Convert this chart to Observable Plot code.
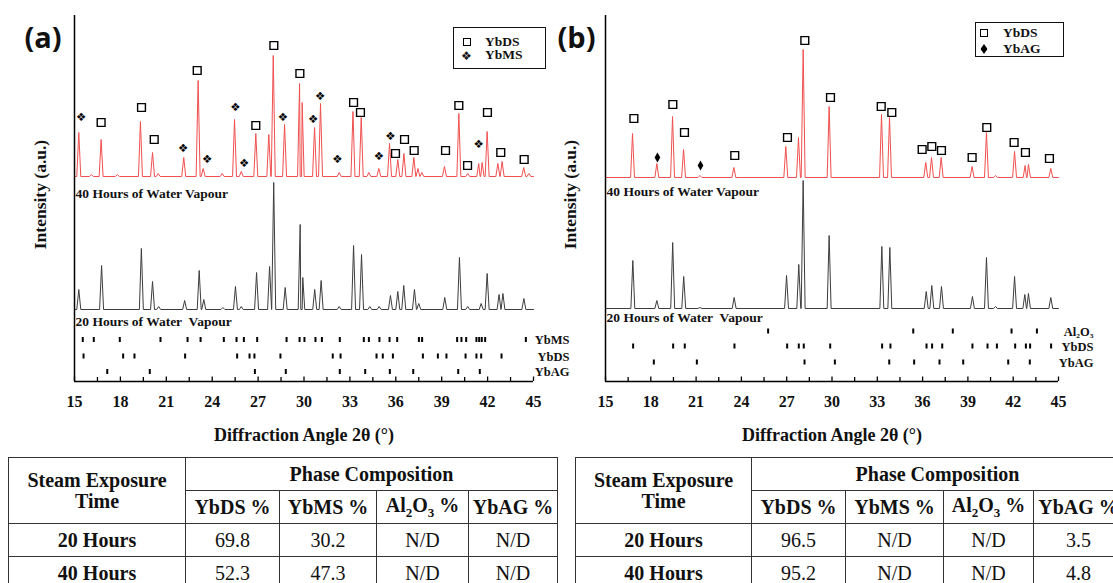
<!DOCTYPE html>
<html><head><meta charset="utf-8">
<script src="https://cdn.jsdelivr.net/npm/d3@7"></script>
<script src="https://cdn.jsdelivr.net/npm/@observablehq/plot@0.6"></script>
<style>
html,body{margin:0;padding:0;background:#fff;overflow:hidden;}
#wrap{position:relative;width:1113px;height:583px;overflow:hidden;font-family:'Liberation Serif','Times New Roman',serif;color:#111;}
.legend{position:absolute;border:1.5px solid #111;background:#fff;box-sizing:border-box;}
.legend .sym{position:absolute;transform:translate(-50%,-50%);line-height:0;}
.legend .sq{width:8px;height:8px;border:1.5px solid #000;box-sizing:border-box;}
.legend .lab{position:absolute;transform:translateY(-50%);font-weight:bold;font-size:13.5px;line-height:1;white-space:nowrap;}
table.tab{position:absolute;border-collapse:collapse;font-family:'Liberation Serif','Times New Roman',serif;font-size:20px;color:#111;table-layout:fixed;}
table.tab td,table.tab th{border:1.5px solid #333;text-align:center;padding:0;line-height:1.05;}
table.tab th{font-weight:bold;}
table.tab td{font-weight:normal;}
</style>
</head>
<body>
<div id="wrap"></div>
<script>
// ---------- axis ticks ----------
const majorTicks = [15, 18, 21, 24, 27, 30, 33, 36, 39, 42, 45];
const minorTicks = [16.5, 19.5, 22.5, 25.5, 28.5, 31.5, 34.5, 37.5, 40.5, 43.5];

// ---------- Panel (a) patterns: [2θ, peak height a.u.] ----------
const a40hPeaks = [[15.28,44],[16.1,2],[16.74,37],[17.8,2],[19.31,55],[20.1,24],[20.47,3],[22.14,19],[23.08,96],[23.41,8],[24.65,3],[25.46,57],[25.9,5],[26.85,43],[27.70,42],[27.99,121],[28.73,52],[29.71,93],[29.88,74],[30.69,49],[31.08,73],[32.3,4],[33.2,65],[33.74,59],[34.24,4],[34.89,8],[35.59,33],[36.13,17],[36.53,23],[37.18,19],[37.45,8],[37.7,4],[39.18,10],[40.12,63],[40.7,3],[41.42,13],[41.64,14],[41.97,45],[42.67,13],[42.95,15],[44.36,9],[44.7,3]];
const a20hPeaks = [[15.28,20],[16.77,44],[19.37,61],[20.1,28],[20.5,3],[22.2,9],[23.15,39],[23.45,10],[24.7,2],[25.52,23],[25.9,3],[26.9,37],[27.75,43],[28.02,127],[28.77,22],[29.75,85],[29.92,32],[30.7,20],[31.12,29],[32.3,3],[33.24,64],[33.76,55],[34.3,3],[34.91,3],[35.65,14],[36.13,18],[36.52,24],[37.22,20],[37.5,6],[39.2,12],[40.16,52],[40.7,3],[41.58,6],[41.97,36],[42.75,15],[43.0,16],[44.37,11]];
// phase markers above the 40 h pattern: [2θ, level above its baseline]
const aYbDSMarks = [[16.74,54],[19.38,69],[20.21,37],[23.02,106],[26.85,51],[28.03,131],[29.73,103],[33.24,74],[33.69,64],[35.98,23],[36.57,37],[37.2,26],[39.25,26],[40.12,71],[40.69,11],[41.99,64],[42.86,24],[44.39,17]];
const aYbMSMarks = [[15.44,59],[22.1,28],[23.67,17],[25.52,69],[26.09,13],[28.62,59],[30.6,57],[31.06,80],[32.19,17],[34.89,20],[35.65,40],[41.41,32]];
// reference tick positions
const aRefYbMS = [15.54,16.26,17.96,20.62,22.39,23.24,24.76,25.59,26.07,26.94,28.86,29.71,30.03,30.75,31.17,32.34,33.91,34.24,34.93,35.59,36.09,37.51,37.72,40.01,40.29,40.6,41.27,41.45,41.62,41.84,44.5];
const aRefYbDS = [15.59,18.18,18.92,22.23,25.63,26.44,26.76,28.46,31.88,32.39,34.74,35.15,35.81,37.77,38.75,39.31,40.56,41.27,41.58,42.91];
const aRefYbAG = [17.14,19.92,26.79,28.81,32.34,34.0,35.61,37.14,40.08,41.49];

// ---------- Panel (b) patterns ----------
const b40hPeaks = [[16.79,44],[18.4,14],[19.44,61],[20.17,28],[21.25,2],[23.5,10],[26.94,31],[27.78,40],[28.09,128],[29.81,71],[33.28,63],[33.81,60],[36.21,15],[36.59,20],[37.23,20],[39.28,11],[40.23,45],[40.83,2],[42.09,26],[42.79,12],[43.01,13],[44.49,9]];
const b20hPeaks = [[16.81,48],[18.4,8],[19.45,66],[20.18,32],[21.25,1],[23.52,11],[26.99,33],[27.8,44],[28.09,128],[29.81,73],[33.3,62],[33.83,61],[36.24,17],[36.61,23],[37.25,22],[39.3,12],[40.23,51],[40.83,2],[42.09,32],[42.77,14],[43.01,15],[44.49,11]];
const bYbDSMarks = [[16.88,59],[19.46,73],[20.23,45],[23.56,22],[27.05,40],[28.2,137],[29.9,80],[33.26,71],[33.96,65],[35.97,28],[36.61,31],[37.25,27],[39.28,20],[40.25,50],[42.06,35],[42.81,25],[44.4,19]];
const bYbAGMarks = [[18.44,20],[21.29,12]];
const bRefAl2O3 = [25.77,35.38,38.0,41.89,43.57];
const bRefYbDS = [16.83,19.48,20.25,23.54,27.03,27.8,28.13,29.88,33.32,33.87,36.26,36.63,37.3,39.3,40.3,40.92,42.13,42.84,43.12,44.51];
const bRefYbAG = [18.2,21.05,28.18,30.19,33.79,35.44,37.12,38.69,41.67,43.1];

// ---------- texts ----------
const xTitle = "Diffraction Angle 2θ (°)";
const yTitle = "Intensity (a.u.)";
const label40 = "40 Hours of Water Vapour";
const label20 = "20 Hours of Water\u00a0 Vapour";

// ---------- tables ----------
const tableTimes = ["20 Hours", "40 Hours"];
const tablePhases = ["YbDS %", "YbMS %", "Al<sub style=\"font-size:13px\">2</sub>O<sub style=\"font-size:13px\">3</sub> %", "YbAG %"];
const tableA = [["69.8","30.2","N/D","N/D"],["52.3","47.3","N/D","N/D"]];
const tableB = [["96.5","N/D","N/D","3.5"],["95.2","N/D","N/D","4.8"]];

// ---------- helpers ----------
const HW = 0.13;
function profile(peaks, base) {
  const pts = [[15, base], [45, base]];
  for (const [p, h] of peaks) {
    pts.push([p - HW, base], [p, base + h], [p + HW, base]);
  }
  pts.sort((a, b) => a[0] - b[0]);
  return pts.map(([x, y]) => ({x, y}));
}
function marks(list, base) { return list.map(([x, l]) => ({x, y: base + l})); }

const SERIF = "'Liberation Serif','Times New Roman',serif";

function panel(cfg) {
  const rows = cfg.rows.flatMap(r => r.pos.map(x => ({x, y: r.y})));
  return Plot.plot({
    width: cfg.width, height: 450,
    marginLeft: cfg.ml, marginRight: cfg.mr, marginTop: 15, marginBottom: 69,
    x: {domain: [15, 45], label: null},
    y: {domain: [-2, 364], axis: null},
    style: `position:absolute;left:${cfg.left}px;top:0;overflow:visible;background:transparent;font-family:${SERIF};font-size:16px;font-weight:bold;color:#111;`,
    marks: [
      Plot.line(profile(cfg.p20, cfg.base20), {x: "x", y: "y", stroke: "#3d3d3d", strokeWidth: 1}),
      Plot.line(profile(cfg.p40, cfg.base40), {x: "x", y: "y", stroke: "#f0504f", strokeWidth: 1}),
      Plot.ruleX(rows, {x: "x", y1: d => d.y - 2.5, y2: d => d.y + 2.5, stroke: "#000", strokeWidth: 2}),
      Plot.text(cfg.rows, {x: () => 45, y: "y", text: "name", textAnchor: "end", dx: cfg.rowDx, fontSize: 12.5, fontWeight: "bold", fill: "#111"}),
      Plot.dot(marks(cfg.sq, cfg.base40), {x: "x", y: "y", symbol: "square", r: 4.4, stroke: "#000", strokeWidth: 1.4, fill: "none"}),
      Plot.text(marks(cfg.ms || [], cfg.base40), {x: "x", y: "y", text: () => "❖", fontFamily: "DejaVu Sans", fontSize: 11.5, fontWeight: "normal", fill: "#000"}),
      Plot.dot(marks(cfg.ag || [], cfg.base40), {x: "x", y: "y", symbol: "diamond", r: 3, fill: "#000", stroke: "none"}),
      Plot.text([label40], {x: () => 15, y: () => cfg.l40y, text: d => d, textAnchor: "start", dx: 1, fontSize: 13.5, fontWeight: "bold"}),
      Plot.text([label20], {x: () => 15, y: () => cfg.l20y, text: d => d, textAnchor: "start", dx: 1, fontSize: 13.5, fontWeight: "bold"}),
      Plot.ruleY([-2], {stroke: "#000", strokeWidth: 1.5}),
      Plot.ruleX([15], {y1: -2, y2: 364, stroke: "#000", strokeWidth: 1.5}),
      Plot.ruleX(majorTicks, {y1: -2, y2: 2.5, stroke: "#000", strokeWidth: 1.3}),
      Plot.ruleX(minorTicks, {y1: -2, y2: 2, stroke: "#000", strokeWidth: 1.3}),
      Plot.axisX(majorTicks, {tickSize: 0, tickPadding: 14, tickFormat: d => String(d), fontSize: 16, fontWeight: "bold", label: null}),
      Plot.text([xTitle], {frameAnchor: "bottom", dy: 54, lineAnchor: "middle", textAnchor: "middle", text: d => d, fontSize: 18, fontWeight: "bold"}),
      Plot.text([yTitle], {frameAnchor: "left", rotate: -90, dx: cfg.ydx, dy: -4, textAnchor: "middle", lineAnchor: "middle", text: d => d, fontSize: 17.5, fontWeight: "bold"}),
      Plot.text([cfg.tag], {frameAnchor: "top-left", dx: cfg.tagDx, dy: 23, textAnchor: "middle", lineAnchor: "middle", text: d => d, fontSize: 29, fontWeight: "bold", fontFamily: "'Open Sans', 'Liberation Sans', sans-serif"})
    ]
  });
}

const wrap = document.getElementById("wrap");
wrap.appendChild(panel({
  width: 556, left: 0, ml: 74, mr: 23,
  p40: a40hPeaks, p20: a20hPeaks, base40: 203, base20: 70,
  sq: aYbDSMarks, ms: aYbMSMarks,
  rows: [{name: "YbMS", y: 39.5, pos: aRefYbMS}, {name: "YbDS", y: 23, pos: aRefYbDS}, {name: "YbAG", y: 7.5, pos: aRefYbAG}],
  rowDx: 36, l40y: 186, l20y: 58, ydx: -34, tagDx: -31.5, tag: "(a)"
}));
wrap.appendChild(panel({
  width: 563, left: 550, ml: 55, mr: 55,
  p40: b40hPeaks, p20: b20hPeaks, base40: 202, base20: 71,
  sq: bYbDSMarks, ag: bYbAGMarks,
  rows: [{name: "Al₂O₃", y: 48, pos: bRefAl2O3}, {name: "YbDS", y: 33, pos: bRefYbDS}, {name: "YbAG", y: 17, pos: bRefYbAG}],
  rowDx: 35, l40y: 188, l20y: 62, ydx: -35, tagDx: -29, tag: "(b)"
}));

// ---------- legends ----------
function legend(left, top, w, h, items) {
  const box = document.createElement("div");
  box.className = "legend";
  Object.assign(box.style, {left: left + "px", top: top + "px", width: w + "px", height: h + "px"});
  for (const it of items) {
    const s = document.createElement("div");
    s.className = "sym";
    s.style.left = it.sx + "px"; s.style.top = it.y + "px";
    if (it.kind === "square") { const q = document.createElement("div"); q.className = "sq"; s.appendChild(q); }
    else if (it.kind === "ms") { s.innerHTML = '<span style="font-family:DejaVu Sans;font-size:12px;line-height:1">❖</span>'; s.style.lineHeight = "1"; }
    else { s.innerHTML = '<svg width="7" height="10" style="display:block"><polygon points="3.5,0 7,5 3.5,10 0,5" fill="#000"/></svg>'; }
    box.appendChild(s);
    const t = document.createElement("div");
    t.className = "lab"; t.textContent = it.text;
    t.style.left = it.tx + "px"; t.style.top = it.y + "px";
    box.appendChild(t);
  }
  wrap.appendChild(box);
}
legend(453, 27, 93, 42, [
  {kind: "square", text: "YbDS", sx: 12.5, tx: 31, y: 13.5},
  {kind: "ms", text: "YbMS", sx: 12.5, tx: 31, y: 26.5}
]);
legend(975, 22, 89, 35, [
  {kind: "square", text: "YbDS", sx: 8, tx: 27, y: 9.5},
  {kind: "ag", text: "YbAG", sx: 8, tx: 27, y: 25.5}
]);

// ---------- tables ----------
function table(left, widths, values) {
  const t = document.createElement("table");
  t.className = "tab";
  t.style.left = left + "px"; t.style.top = "457px";
  t.style.width = widths.reduce((a, b) => a + b, 0) + "px";
  let html = "<colgroup>" + widths.map(w => `<col style="width:${w}px">`).join("") + "</colgroup>";
  html += `<tr style="height:33px"><th rowspan="2">Steam Exposure<br>Time</th><th colspan="4">Phase Composition</th></tr>`;
  html += `<tr style="height:33px">` + tablePhases.map(p => `<th>${p}</th>`).join("") + "</tr>";
  values.forEach((row, i) => {
    html += `<tr style="height:33px"><th>${tableTimes[i]}</th>` + row.map(v => `<td>${v}</td>`).join("") + "</tr>";
  });
  t.innerHTML = html;
  wrap.appendChild(t);
}
table(8, [177, 94, 97, 92, 89], tableA);
table(575, [176, 94, 98, 90, 90], tableB);
</script>
</body></html>
